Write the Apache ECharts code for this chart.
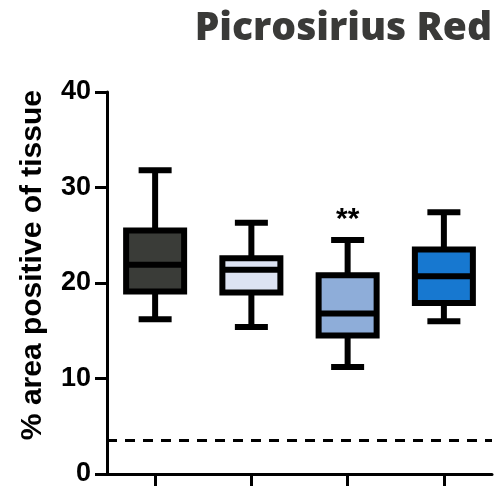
<!DOCTYPE html>
<html><head><meta charset="utf-8">
<script src="https://cdn.jsdelivr.net/npm/echarts@6/dist/echarts.min.js"></script>
<style>html,body{margin:0;padding:0;background:#fff}#c{width:500px;height:490px}</style>
</head><body><div id="c"></div>
<script>
// Data
const categories = ['Group 1', 'Group 2', 'Group 3', 'Group 4'];
const whiskerMin = [16.2, 15.4, 11.2, 16.0];
const q1 = [19.1, 19.0, 14.5, 17.9];
const median = [21.9, 21.4, 16.8, 20.7];
const q3 = [25.5, 22.6, 20.8, 23.5];
const whiskerMax = [31.8, 26.3, 24.5, 27.4];
const boxColors = ['#3a3c38', '#dde3f3', '#8eadd9', '#1778d0'];
const thresholdValue = 3.5;
const annotationCategory = 2;
const annotationValue = 26.6;
const annotationText = '**';
const yTicks = [0, 10, 20, 30, 40];

const boxData = categories.map((c, i) => [i, whiskerMin[i], q1[i], median[i], q3[i], whiskerMax[i]]);

const chart = echarts.init(document.getElementById('c'), null, {renderer: 'canvas'});
const LW = 6, BOXW = 58, CAPW = 33;
chart.setOption({
  animation: false,
  title: {
    text: 'Picrosirius Red', right: 3, top: 4,
    textStyle: {fontFamily: 'Open Sans', fontWeight: 800, fontSize: 39, color: '#3a3a38'}
  },
  graphic: [{
    type: 'text', left: 18, top: 90, rotation: Math.PI / 2,
    style: {text: '% area positive of tissue', font: 'bold 30px "Liberation Sans", Arial', fill: '#000'}
  }],
  grid: {left: 107, right: 8, top: 92, bottom: 16},
  xAxis: {
    type: 'category', data: categories, boundaryGap: true,
    axisLine: {show: true, lineStyle: {color: '#000', width: 3}},
    axisTick: {show: true, length: 12, interval: 0, alignWithLabel: true, lineStyle: {color: '#000', width: 3}},
    axisLabel: {show: true, interval: 0, formatter: function () { return ''; }},
    splitLine: {show: false}
  },
  yAxis: {
    type: 'value', min: yTicks[0], max: yTicks[yTicks.length - 1], interval: 10,
    axisLine: {show: true, lineStyle: {color: '#000', width: 3}},
    axisTick: {show: true, length: 12, lineStyle: {color: '#000', width: 3}},
    axisLabel: {margin: 16, color: '#000', fontSize: 27, fontWeight: 'bold', fontFamily: '"Liberation Sans", Arial'},
    splitLine: {show: false}
  },
  series: [{
    type: 'custom',
    data: boxData,
    renderItem: function (params, api) {
      const idx = api.value(0);
      const pMin = api.coord([idx, api.value(1)]);
      const pQ1 = api.coord([idx, api.value(2)]);
      const pMed = api.coord([idx, api.value(3)]);
      const pQ3 = api.coord([idx, api.value(4)]);
      const pMax = api.coord([idx, api.value(5)]);
      const x = pMed[0];
      const ls = {stroke: '#000', lineWidth: LW};
      return {
        type: 'group',
        children: [
          {type: 'line', shape: {x1: x, y1: pMax[1], x2: x, y2: pQ3[1]}, style: ls},
          {type: 'line', shape: {x1: x, y1: pQ1[1], x2: x, y2: pMin[1]}, style: ls},
          {type: 'line', shape: {x1: x - CAPW / 2, y1: pMax[1], x2: x + CAPW / 2, y2: pMax[1]}, style: ls},
          {type: 'line', shape: {x1: x - CAPW / 2, y1: pMin[1], x2: x + CAPW / 2, y2: pMin[1]}, style: ls},
          {type: 'rect', shape: {x: x - BOXW / 2, y: pQ3[1], width: BOXW, height: pQ1[1] - pQ3[1]},
            style: {fill: boxColors[params.dataIndex], stroke: '#000', lineWidth: LW}},
          {type: 'line', shape: {x1: x - BOXW / 2, y1: pMed[1], x2: x + BOXW / 2, y2: pMed[1]}, style: ls}
        ]
      };
    },
    markLine: {
      silent: true, symbol: ['none', 'none'],
      label: {show: false},
      lineStyle: {color: '#000', width: 3, type: [10, 8]},
      data: [{yAxis: thresholdValue}]
    }
  }, {
    type: 'scatter',
    data: [[annotationCategory, annotationValue]],
    symbolSize: 1,
    itemStyle: {opacity: 0},
    label: {show: true, formatter: annotationText, position: 'inside', color: '#000', opacity: 1,
      fontSize: 30, fontWeight: 'bold', fontFamily: '"Liberation Sans", Arial'}
  }]
});
</script></body></html>
